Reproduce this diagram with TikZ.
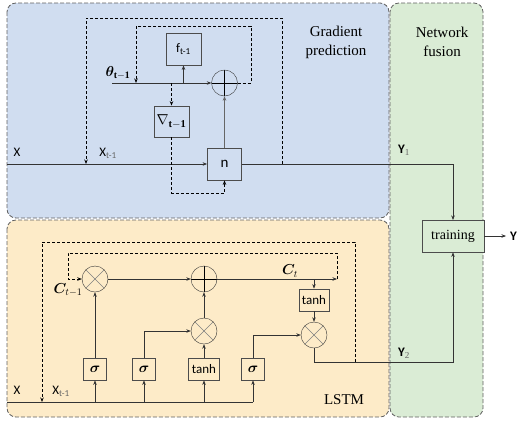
\documentclass[tikz,border=0pt]{standalone}
\usepackage{amsmath}
\usepackage{bm}
\usepackage{fontspec}
\setmainfont{Liberation Serif}
\newfontfamily\calib{Carlito}
\usetikzlibrary{arrows.meta, positioning, calc}

\definecolor{gradblue}{RGB}{208,221,240}
\definecolor{lstmorange}{RGB}{253,235,200}
\definecolor{fusegreen}{RGB}{218,236,213}
\definecolor{framegray}{RGB}{96,96,96}

\begin{document}
\begin{tikzpicture}[
        x=1pt, y=-1pt,
        panel/.style={
            draw=framegray,
            rounded corners=9pt,
            dash pattern=on 4pt off 2pt,
            thick
        },
        blk/.style={
            rectangle,
            draw=black!70,
            thick,
            inner sep=1pt,
            font=\calib\fontsize{13}{14}\selectfont
        },
        opsum/.style={
            circle,
            draw=black!80,
            minimum size=26pt,
            path picture={
                \draw[black,thick] (path picture bounding box.north) -- (path picture bounding box.south);
                \draw[black,thick] (path picture bounding box.west) -- (path picture bounding box.east);
            }
        },
        opmul/.style={
            circle,
            draw=black!80,
            minimum size=26pt,
            path picture={
                \draw[black!50] (path picture bounding box.north east) -- (path picture bounding box.south west);
                \draw[black!50] (path picture bounding box.north west) -- (path picture bounding box.south east);
            }
        },
        arrow/.style={-{Stealth[length=4.5pt,width=3.5pt]}},
        flow/.style={draw=black!80, semithick},
        loop/.style={draw=black, line width=0.8pt, dash pattern=on 3pt off 2pt},
        lab/.style={font=\calib\fontsize{13}{14}\selectfont, inner sep=1pt},
        title/.style={align=center, font=\fontsize{15}{19}\selectfont}
    ]
    \useasboundingbox (0,0) rectangle (518,424);

    % panels
    \draw[panel, fill=fusegreen] (390,3) rectangle (483,417);
    \draw[panel, fill=gradblue] (7,3) rectangle (389,218);
    \draw[panel, fill=lstmorange] (7,220) rectangle (389,417);

    \node[title] (tgrad) at (336,42) {Gradient\\prediction};
    \node[title] (tfuse) at (442,42) {Network\\fusion};
    \node[title] (tlstm) at (344,400) {LSTM};

    % gradient prediction
    \node[blk, minimum width=35pt, minimum height=32pt] (f) at (183.5,49) {f\textsubscript{t-1}};
    \node[opsum] (gsum) at (224.5,83) {};
    \node[blk, minimum width=35pt, minimum height=31pt, font=\calib\fontsize{15}{16}\selectfont] (grad) at (171.5,121.5) {$\nabla_{\mathbf{t-1}}$};
    \node[blk, minimum width=34pt, minimum height=32pt, font=\calib\fontsize{15}{16}\selectfont] (nb) at (224.5,164) {n};

    \coordinate (xg) at (7,164);
    \coordinate (th) at (112,83);
    \coordinate (y1) at (453,164);

    \node[lab] (lxg) at (17,152) {X};
    \node[lab] (lxg1) at (108,153) {X\textsubscript{\color{black!60}t-1}};
    \node[lab, font=\calib\fontsize{14}{15}\selectfont] (lth) at (118,73) {$\bm{\theta}_{\mathbf{t-1}}$};
    \node[lab] (ly1) at (404,150) {\textbf{Y}\textsubscript{\color{black!60}\rmfamily 1}};

    \draw[flow, arrow] (xg) -- (nb.west);
    \draw[flow, arrow] (th) -- (gsum.west);
    \draw[flow, arrow] (f.south |- gsum) -- (f.south);
    \draw[draw=black!60, thick, arrow] (nb.north) -- (gsum.south);
    \draw[flow, arrow] (nb.east) -- (y1) -- (453,220);

    \draw[loop, arrow] (grad.north |- gsum) -- (grad.north);
    \draw[loop, arrow] (grad.south) -- (171.5,193) -- (224.5,193) -- (nb.south);
    \draw[loop, arrow] (gsum.east) -- (251,83) -- (251,26) -- (136,26) -- (136,83);
    \draw[loop, arrow] (282,164) -- (282,18) -- (86,18) -- (86,164);

    % LSTM
    \node[opmul] (m1) at (95,279) {};
    \node[opsum] (p2) at (204,279) {};
    \node[opmul] (m3) at (204,331) {};
    \node[opmul] (m4) at (314,335) {};
    \node[blk, minimum width=23pt, minimum height=22pt, font=\fontsize{15}{16}\selectfont] (s1) at (95,369) {$\bm{\sigma}$};
    \node[blk, minimum width=23pt, minimum height=22pt, font=\fontsize{15}{16}\selectfont] (s2) at (144,369) {$\bm{\sigma}$};
    \node[blk, minimum width=31pt, minimum height=22pt] (t1) at (204,369) {tanh};
    \node[blk, minimum width=23pt, minimum height=22pt, font=\fontsize{15}{16}\selectfont] (s4) at (253,369) {$\bm{\sigma}$};
    \node[blk, minimum width=30pt, minimum height=22pt] (t2) at (314,300) {tanh};
    \node[blk, minimum width=62pt, minimum height=32pt, fill=fusegreen, font=\fontsize{14}{15}\selectfont] (train) at (453,236) {training};

    \coordinate (xl) at (7,402);
    \coordinate (ct) at (337,279);
    \coordinate (y2) at (453,362);
    \coordinate (yout) at (506,236);

    \node[lab] (lxl) at (17,390) {X};
    \node[lab] (lxl1) at (61,391) {X\textsubscript{\color{black!60}t-1}};
    \node[lab, font=\fontsize{14}{15}\selectfont] (lc1) at (68,290) {$\bm{C}_{t-1}$};
    \node[lab, font=\fontsize{14}{15}\selectfont] (lct) at (290,271) {$\bm{C}_{t}$};
    \node[lab] (ly2) at (404,353) {\textbf{Y}\textsubscript{\color{black!60}\rmfamily 2}};
    \node[lab, anchor=west] (ly) at (509,236) {\textbf{Y}};

    \draw[flow] (xl) -- (s4.south |- xl);
    \foreach \b in {s1,s2,t1,s4} {
        \draw[flow, arrow] (\b.south |- xl) -- (\b.south);
    }
    \draw[flow, arrow] (s1.north) -- (m1.south);
    \draw[flow, arrow] (s2.north) |- (m3.west);
    \draw[flow, arrow] (t1.north) -- (m3.south);
    \draw[flow, arrow] (m3.north) -- (p2.south);
    \draw[flow, arrow] (s4.north) |- (m4.west);
    \draw[flow, arrow] (m1.east) -- (p2.west);
    \draw[flow, arrow] (p2.east) -- (ct);
    \draw[flow, arrow] (t2.north |- ct) -- (t2.north);
    \draw[flow, arrow] (t2.south) -- (m4.north);
    \draw[flow, arrow] (m4.south) |- (y2) -- (train.south);
    \draw[flow, arrow] (train.east) -- (yout);

    \draw[loop, arrow] (ct) -- (337,253) -- (68,253) -- (68,279) -- (m1.west);
    \draw[loop, arrow] (355,362) -- (355,242) -- (42,242) -- (42,402);

\end{tikzpicture}
\end{document}
